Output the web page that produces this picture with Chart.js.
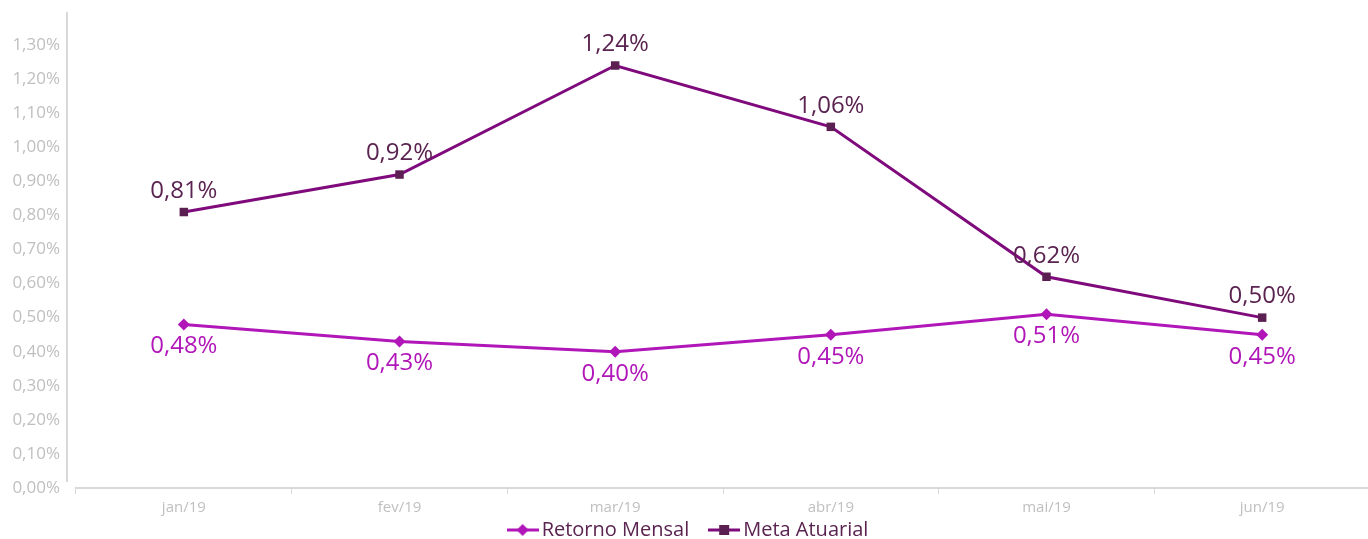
<!DOCTYPE html>
<html>
<head>
<meta charset="utf-8">
<script src="https://cdn.jsdelivr.net/npm/chart.js@4/dist/chart.umd.min.js"></script>
<style>
  html, body { margin: 0; padding: 0; background: #fff; overflow: hidden; }
  #wrap { width: 1376px; height: 539px; position: relative; }
</style>
</head>
<body>
<div id="wrap"><canvas id="chart"></canvas></div>
<script>
// ---- data ----
const months = ['jan/19', 'fev/19', 'mar/19', 'abr/19', 'mai/19', 'jun/19'];
const retornoMensal = [0.48, 0.43, 0.40, 0.45, 0.51, 0.45];
const metaAtuarial = [0.81, 0.92, 1.24, 1.06, 0.62, 0.50];

const RET_COLOR = '#b016b8';
const META_LINE = '#7f0a7c';
const META_MARK = '#5c1f52';
const META_TEXT = '#5a2350';
const AXIS_GRAY = '#d9d9d9';
const TICK_GRAY = '#bfbfbf';
const FONT = "'Open Sans', Lato, sans-serif";

const pct = v => v.toFixed(2).replace('.', ',') + '%';

// legend swatch: short line with the marker in the middle
function legendSwatch(lineColor, markColor, shape) {
  const c = document.createElement('canvas');
  c.width = 32; c.height = 14;
  const g = c.getContext('2d');
  g.strokeStyle = lineColor; g.lineWidth = 3;
  g.beginPath(); g.moveTo(0, 7); g.lineTo(32, 7); g.stroke();
  g.fillStyle = markColor;
  if (shape === 'diamond') {
    g.beginPath(); g.moveTo(16, 1); g.lineTo(22, 7); g.lineTo(16, 13); g.lineTo(10, 7); g.closePath(); g.fill();
  } else {
    g.fillRect(11, 2, 10, 10);
  }
  return c;
}

// value labels above (meta) / below (retorno) each point
const valueLabels = {
  id: 'valueLabels',
  afterDatasetsDraw(chart) {
    const ctx = chart.ctx;
    ctx.save();
    ctx.font = `24px ${FONT}`;
    ctx.textAlign = 'center';
    ctx.textBaseline = 'middle';
    chart.data.datasets.forEach((ds, i) => {
      const meta = chart.getDatasetMeta(i);
      meta.data.forEach((pt, j) => {
        const above = ds.label === 'Meta Atuarial';
        ctx.fillStyle = above ? META_TEXT : RET_COLOR;
        ctx.fillText(pct(ds.data[j]), pt.x, above ? pt.y - 21 : pt.y + 22);
      });
    });
    ctx.restore();
  }
};

// detached vertical axis line left of the plot
const yAxisLine = {
  id: 'yAxisLine',
  beforeDraw(chart) {
    const { ctx, chartArea } = chart;
    ctx.save();
    ctx.strokeStyle = AXIS_GRAY;
    ctx.lineWidth = 2;
    ctx.beginPath();
    ctx.moveTo(chartArea.left - 9, chartArea.top + 1);
    ctx.lineTo(chartArea.left - 9, chartArea.bottom - 6);
    ctx.stroke();
    ctx.restore();
  }
};

new Chart(document.getElementById('chart'), {
  type: 'line',
  data: {
    labels: months,
    datasets: [
      {
        label: 'Retorno Mensal', data: retornoMensal,
        borderColor: RET_COLOR, backgroundColor: RET_COLOR,
        borderWidth: 3, tension: 0,
        pointStyle: 'rectRot', pointRadius: 6, pointHoverRadius: 6,
        pointBackgroundColor: RET_COLOR, pointBorderColor: RET_COLOR, pointBorderWidth: 0
      },
      {
        label: 'Meta Atuarial', data: metaAtuarial,
        borderColor: META_LINE, backgroundColor: META_MARK,
        borderWidth: 3, tension: 0,
        pointStyle: 'rect', pointRadius: 6, pointHoverRadius: 6,
        pointBackgroundColor: META_MARK, pointBorderColor: META_MARK, pointBorderWidth: 0
      }
    ]
  },
  options: {
    responsive: true, maintainAspectRatio: false, animation: false,
    layout: { padding: { top: 11, right: 0, left: 6, bottom: 0 } },
    plugins: {
      tooltip: { enabled: false },
      legend: {
        position: 'bottom',
        maxHeight: 19,
        labels: {
          usePointStyle: true,
          pointStyleWidth: 18,
          color: META_TEXT,
          font: { family: FONT, size: 20 },
          padding: 0,
          boxHeight: 14,
          generateLabels: () => [
            { text: 'Retorno Mensal     ', pointStyle: legendSwatch(RET_COLOR, RET_COLOR, 'diamond'), fontColor: META_TEXT, datasetIndex: 0 },
            { text: 'Meta Atuarial', pointStyle: legendSwatch(META_LINE, META_MARK, 'square'), fontColor: META_TEXT, datasetIndex: 1 }
          ]
        }
      }
    },
    scales: {
      x: {
        offset: true,
        grid: { offset: true, drawOnChartArea: false, drawTicks: true, tickLength: 6, color: AXIS_GRAY, lineWidth: 1 },
        border: { color: AXIS_GRAY, width: 2 },
        ticks: { color: TICK_GRAY, font: { family: FONT, size: 15 }, padding: 5, maxRotation: 0 },
        afterFit: s => { s.height = 32; }
      },
      y: {
        min: 0, max: 1.4,
        grid: { display: false, drawTicks: false },
        border: { display: false },
        ticks: {
          stepSize: 0.1, padding: 16,
          color: TICK_GRAY, font: { family: FONT, size: 17 },
          callback: v => (v > 1.35 ? '' : pct(v))
        },
        afterFit: s => { s.width = 70; s.paddingTop = 0; }
      }
    }
  },
  plugins: [valueLabels, yAxisLine]
});
</script>
</body>
</html>
